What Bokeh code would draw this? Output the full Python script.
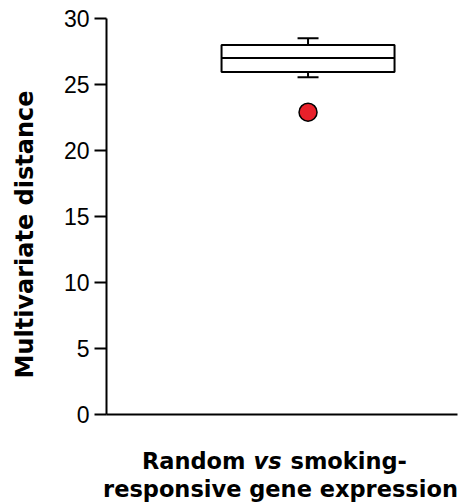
from bokeh.plotting import figure
from bokeh.models import Range1d, Label, FixedTicker, LinearAxis
from bokeh.embed import file_html
from bokeh.resources import INLINE

# Data
group_x = [1.0]
q1 = [25.95]
median = [27.0]
q3 = [28.0]
whisker_low = [25.55]
whisker_high = [28.5]
outliers_y = [22.9]
y_ticks = [0, 5, 10, 15, 20, 25, 30]
y_bounds = (0, 30)
y_label = "Multivariate distance"
x_label_line1 = ["Random", "vs", "smoking-"]
x_label_line2 = "responsive gene expression"

box_w = 0.8
cap_w = 0.097
XA0, XA1 = 0.068, 1.691      # extent of the x axis line

p = figure(width=467, height=503, output_backend="svg", toolbar_location=None,
           x_range=Range1d(-0.4222, 1.7374), y_range=Range1d(-6.742, 31.364),
           x_axis_location=None, y_axis_location=None,
           min_border=0)
p.outline_line_color = None
p.xgrid.visible = False
p.ygrid.visible = False
p.background_fill_color = "white"
p.border_fill_color = "white"

# y axis
ya = LinearAxis(fixed_location=XA0, bounds=y_bounds, ticker=FixedTicker(ticks=y_ticks))
ya.axis_line_width = 2
ya.major_tick_line_width = 2
ya.major_tick_out = 12
ya.major_tick_in = 0
ya.minor_tick_line_color = None
ya.major_label_standoff = 5
ya.major_label_text_font = "Liberation Sans"
ya.major_label_text_font_size = "23px"
ya.major_label_text_color = "black"
p.add_layout(ya, "left")

# x axis
xa = LinearAxis(fixed_location=0, bounds=(XA0, XA1), ticker=FixedTicker(ticks=[]))
xa.axis_line_width = 2
xa.major_tick_line_color = None
xa.minor_tick_line_color = None
p.add_layout(xa, "below")

# box
p.vbar(x=group_x, width=box_w, bottom=q1, top=q3, fill_color="white",
       line_color="black", line_width=2)
p.segment(x0=[x - box_w / 2 for x in group_x], x1=[x + box_w / 2 for x in group_x],
          y0=median, y1=median, line_color="black", line_width=2)
# whiskers
p.segment(x0=group_x, x1=group_x, y0=q3, y1=whisker_high, line_color="black", line_width=2)
p.segment(x0=group_x, x1=group_x, y0=q1, y1=whisker_low, line_color="black", line_width=2)
p.segment(x0=[x - cap_w / 2 for x in group_x], x1=[x + cap_w / 2 for x in group_x],
          y0=whisker_high, y1=whisker_high, line_color="black", line_width=2)
p.segment(x0=[x - cap_w / 2 for x in group_x], x1=[x + cap_w / 2 for x in group_x],
          y0=whisker_low, y1=whisker_low, line_color="black", line_width=2)
# outlier
p.scatter(x=group_x * len(outliers_y), y=outliers_y, size=18, fill_color="#e8202a",
          line_color="black", line_width=1.5)

font = "DejaVu Sans"
# y axis label
p.add_layout(Label(x=-0.3066, y=13.64, text=y_label,
                   angle=1.5708, text_align="center", text_baseline="middle",
                   text_font=font, text_font_style="bold", text_font_size="24px",
                   text_color="black"))
# x axis label line 1 with italic "vs"
p.add_layout(Label(x=0.7108, y=-3.56, text=x_label_line1[0],
                   text_align="right", text_baseline="alphabetic",
                   text_font=font, text_font_style="bold", text_font_size="22.5px",
                   text_color="black"))
p.add_layout(Label(x=0.8125, y=-3.56, text=x_label_line1[1],
                   text_align="center", text_baseline="alphabetic",
                   text_font=font, text_font_style="bold italic", text_font_size="22.5px",
                   text_color="black"))
p.add_layout(Label(x=0.9189, y=-3.56, text=x_label_line1[2],
                   text_align="left", text_baseline="alphabetic",
                   text_font=font, text_font_style="bold", text_font_size="22.5px",
                   text_color="black"))
p.add_layout(Label(x=0.8726, y=-5.68, text=x_label_line2,
                   text_align="center", text_baseline="alphabetic",
                   text_font=font, text_font_style="bold", text_font_size="22.5px",
                   text_color="black"))

open("out.html", "w").write(file_html(p, INLINE))
